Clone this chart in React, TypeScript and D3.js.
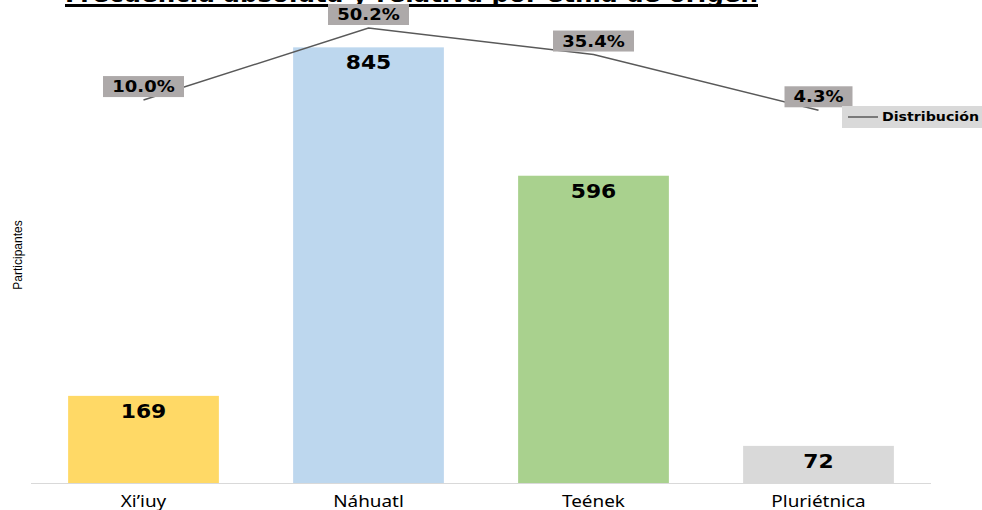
import React from "react";
import * as d3 from "d3";

const categories = ["Xi’iuy", "Náhuatl", "Teének", "Pluriétnica"];
const participants = [169, 845, 596, 72];
const distribution = [10.0, 50.2, 35.4, 4.3];
const barColors = ["#FFD966", "#BDD7EE", "#A9D18E", "#D9D9D9"];
const title = "Frecuencia absoluta y relativa por etnia de origen";

export default function App() {
  const W = 982, H = 510;
  const x = d3.scaleBand<string>().domain(categories).range([31, 931]).paddingInner(0.33).paddingOuter(0.165);
  const y = d3.scaleLinear().domain([0, 900]).range([483, 19]);
  const y2 = d3.scaleLinear().domain([0, 50.2]).range([118, 28]);
  const cx = (c: string) => (x(c) as number) + x.bandwidth() / 2;
  const line = d3.line<number>().x((_, i) => cx(categories[i])).y((d) => y2(d));
  const pctFont = "'DejaVu Sans', Verdana, sans-serif";
  return (
    <svg width={W} height={H} style={{ position: "absolute", left: 0, top: 0, background: "#fff" }}>
      {/* clipped title */}
      <text x={65} y={2} fontFamily={pctFont} fontWeight="bold" fontSize={24} textLength={693} lengthAdjust="spacingAndGlyphs" fill="#000">{title}</text>
      <rect x={65} y={4} width={693} height={3} fill="#000" />
      {/* axis title */}
      <text transform="translate(22,255) rotate(-90)" textAnchor="middle" fontFamily="'Liberation Sans Narrow', 'Liberation Sans', sans-serif" fontSize={12} fill="#000">Participantes</text>
      {/* bars */}
      {categories.map((c, i) => (
        <rect key={c} x={x(c)} y={y(participants[i])} width={x.bandwidth()} height={y(0) - y(participants[i])} fill={barColors[i]} />
      ))}
      {/* baseline */}
      <line x1={31} x2={931} y1={483.5} y2={483.5} stroke="#D9D9D9" strokeWidth={1} />
      {/* bar labels */}
      {categories.map((c, i) => (
        <text key={c} x={cx(c)} y={y(participants[i]) + 22} textAnchor="middle" fontFamily={pctFont} fontWeight="bold" fontSize={19} fill="#000" transform={`translate(${cx(c)},0) scale(1.15,1) translate(${-cx(c)},0)`}>{participants[i]}</text>
      ))}
      {/* x labels */}
      {categories.map((c) => (
        <text key={c} x={cx(c)} y={507} textAnchor="middle" fontFamily="'Noto Sans', sans-serif" fontSize={15.5} fill="#000" transform={`translate(${cx(c)},0) scale(1.22,1) translate(${-cx(c)},0)`}>{c}</text>
      ))}
      {/* line */}
      <path d={line(distribution) || ""} fill="none" stroke="#595959" strokeWidth={1.5} />
      {/* pct labels */}
      {categories.map((c, i) => {
        const label = distribution[i].toFixed(1) + "%";
        const w = label.length * 13 + 16;
        const px = cx(c), py = y2(distribution[i]);
        return (
          <g key={c}>
            <rect x={px - w / 2} y={py - 24} width={w} height={21} fill="#ADA9A9" />
            <text x={px} y={py - 8} textAnchor="middle" fontFamily={pctFont} fontWeight="bold" fontSize={15} fill="#000" transform={`translate(${px},0) scale(1.2,1) translate(${-px},0)`}>{label}</text>
          </g>
        );
      })}
      {/* legend */}
      <rect x={842} y={106} width={140} height={22} fill="#D9D9D9" />
      <line x1={848} x2={878} y1={117} y2={117} stroke="#595959" strokeWidth={1.5} />
      <text x={882} y={121} fontFamily={pctFont} fontWeight="bold" fontSize={12} textLength={97} lengthAdjust="spacingAndGlyphs" fill="#000">Distribución</text>
    </svg>
  );
}
